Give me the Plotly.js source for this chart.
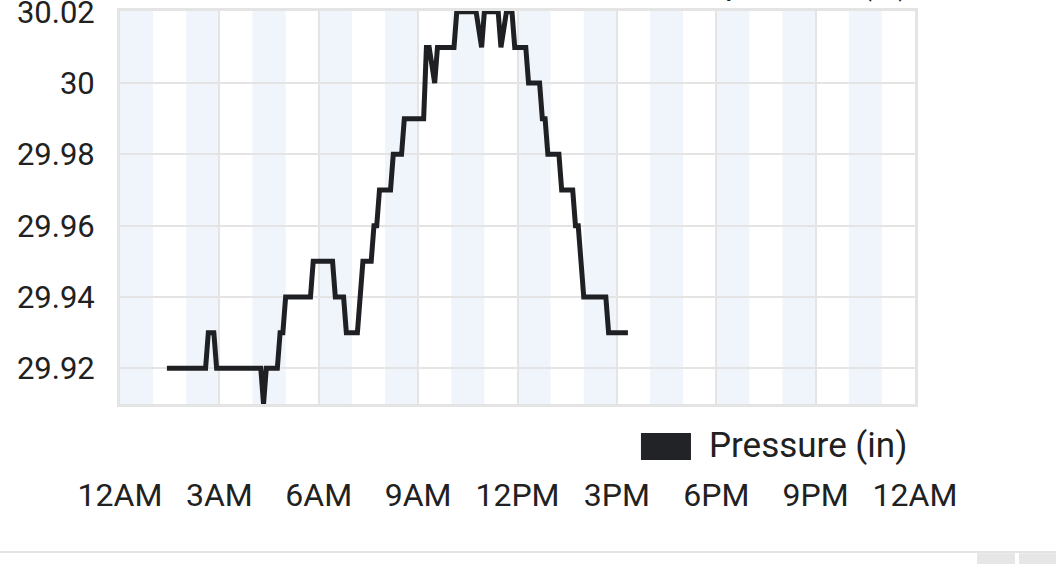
<!DOCTYPE html>
<html>
<head>
<meta charset="utf-8">
<script src="https://cdn.plot.ly/plotly-3.0.1.min.js"></script>
<style>
html,body{margin:0;padding:0;background:#fff;}
#chart{width:1056px;height:564px;}
</style>
</head>
<body>
<div id="chart"></div>
<script>
// Time of each reading (clock time) and pressure (in)
var times = ["1:25","2:35","2:40","2:50","2:55","4:15","4:20","4:25","4:45","4:50",
  "4:55","5:00","5:45","5:50","6:25","6:30","6:45","6:50","7:10","7:15",
  "7:20","7:35","7:40","7:45","7:50","8:10","8:15","8:30","8:35","9:10",
  "9:15","9:20","9:30","9:35","10:05","10:10","10:45","10:55","11:00","11:25",
  "11:30","11:40","11:50","11:55","12:15","12:20","12:40","12:45","12:50","12:55",
  "13:15","13:20","13:40","13:45","13:50","13:55","14:00","14:40","14:45","15:20"];
var pressure = [29.92,29.92,29.93,29.93,29.92,29.92,29.91,29.92,29.92,29.93,
  29.93,29.94,29.94,29.95,29.95,29.94,29.94,29.93,29.93,29.94,
  29.95,29.95,29.96,29.96,29.97,29.97,29.98,29.98,29.99,29.99,
  30.01,30.01,30.00,30.01,30.01,30.02,30.02,30.01,30.02,30.02,
  30.01,30.02,30.02,30.01,30.01,30.00,30.00,29.99,29.99,29.98,
  29.98,29.97,29.97,29.96,29.96,29.95,29.94,29.94,29.93,29.93];
var tickHours = [0,3,6,9,12,15,18,21,24];
var tickLabels = ["12AM","3AM","6AM","9AM","12PM","3PM","6PM","9PM","12AM"];
var yTicks = [29.92,29.94,29.96,29.98,30,30.02];
var yTickLabels = ["29.92","29.94","29.96","29.98","30","30.02"];
var bandStarts = [0,2,4,6,8,10,12,14,16,18,20,22];
var seriesName = "Pressure (in)";

var hours = times.map(function(t){var p=t.split(":");return (+p[0])+(+p[1])/60;});

var shapes = bandStarts.map(function(h){
  return {type:"rect",xref:"x",yref:"paper",x0:h,x1:h+1,y0:0,y1:1,
    fillcolor:"#f0f5fb",line:{width:0},layer:"below"};
});
// legend swatch
shapes.push({type:"rect",xref:"paper",yref:"paper",x0:0.6553,x1:0.7182,y0:-0.1425,y1:-0.0738,
  fillcolor:"#222326",line:{width:0}});
// bottom separator
shapes.push({type:"line",xref:"paper",yref:"paper",x0:-0.16,x1:1.19,y0:-0.3766,y1:-0.3766,
  line:{color:"#e3e3e3",width:2}});
// bottom-right buttons
shapes.push({type:"rect",xref:"paper",yref:"paper",x0:1.078,x1:1.1258,y0:-0.42,y1:-0.38,
  fillcolor:"#e6e6e6",line:{width:0}});
shapes.push({type:"rect",xref:"paper",yref:"paper",x0:1.1308,x1:1.19,y0:-0.42,y1:-0.38,
  fillcolor:"#e6e6e6",line:{width:0}});

var trace = {
  x: hours, y: pressure, type:"scatter", mode:"lines", name: seriesName,
  line:{color:"#1f2023",width:5}, showlegend:false, cliponaxis:false
};

var layout = {
  width:1056, height:564,
  margin:{l:120,r:141,t:11,b:160},
  paper_bgcolor:"#ffffff", plot_bgcolor:"#ffffff",
  font:{family:"Roboto, sans-serif",color:"#212121"},
  showlegend:false,
  xaxis:{range:[0,24],tickvals:tickHours,ticktext:tickLabels,
    showgrid:true,gridcolor:"#e4e4e4",gridwidth:2,
    showline:true,mirror:true,linecolor:"#e4e4e4",linewidth:3,
    zeroline:false,ticks:"",ticklabelstandoff:61,ticklabeloverflow:"allow",
    tickfont:{size:32,color:"#212121"},fixedrange:true},
  yaxis:{range:[29.91,30.0202],tickvals:yTicks,ticktext:yTickLabels,
    showgrid:true,gridcolor:"#e4e4e4",gridwidth:2,
    showline:true,mirror:true,linecolor:"#e4e4e4",linewidth:3,
    zeroline:false,ticks:"",ticklabelstandoff:16,ticklabeloverflow:"allow",
    tickfont:{size:31,color:"#212121"},fixedrange:true},
  shapes: shapes,
  annotations:[
    {text:seriesName,xref:"paper",yref:"paper",x:0.7384,y:-0.1066,xanchor:"left",yanchor:"middle",
     showarrow:false,font:{size:35,color:"#212121",family:"Roboto, sans-serif"}},
    {text:"pressure (in)",xref:"paper",yref:"paper",x:0.9962,y:1,xanchor:"right",yanchor:"bottom",
     yshift:7,showarrow:false,font:{size:33,color:"#212121",family:"Roboto, sans-serif"}}
  ]
};

Plotly.newPlot("chart",[trace],layout,{displayModeBar:false,staticPlot:true});
</script>
</body>
</html>
